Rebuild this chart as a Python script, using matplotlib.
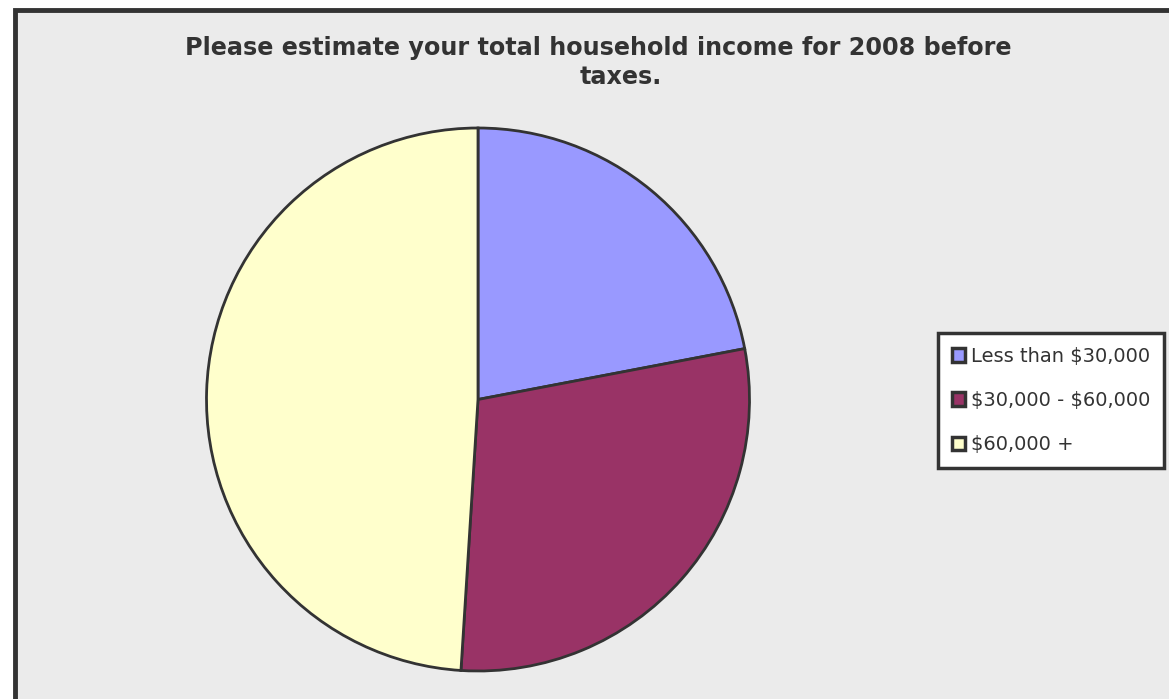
import matplotlib.pyplot as plt
from matplotlib.patches import Rectangle, Patch

# data
labels = [r'Less than \$30,000', r'\$30,000 - \$60,000', r'\$60,000 +']
values = [22, 29, 49]
colors = ['#9999FF', '#993366', '#FFFFCC']

W, H = 1169, 699
fig = plt.figure(figsize=(W / 100, H / 100), dpi=100)
fig.patch.set_facecolor('white')

# grey chart area with dark frame (only top and left visible)
bg = Rectangle((15 / W, -0.05), 1.1, 1 - 10 / H + 0.05,
               transform=fig.transFigure, facecolor='#EBEBEB',
               edgecolor='#333333', linewidth=3.5, zorder=-5)
fig.patches.append(bg)

# title, two lines
fig.text(598 / W, 1 - 48 / H, 'Please estimate your total household income for 2008 before',
         ha='center', va='center', fontsize=17.2, fontweight='bold', color='#333333')
fig.text(621 / W, 1 - 77 / H, 'taxes.',
         ha='center', va='center', fontsize=17.2, fontweight='bold', color='#333333')

# pie
cx, cy, r = 478, 399.5, 271.5
ax = fig.add_axes([(cx - r) / W, (H - cy - r) / H, 2 * r / W, 2 * r / H])
ax.set_zorder(2)
wedges, _ = ax.pie(values, colors=colors, startangle=90, counterclock=False,
                   wedgeprops=dict(edgecolor='#333333', linewidth=2))
ax.set_xlim(-1, 1)
ax.set_ylim(-1, 1)
ax.axis('off')

# legend
handles = [Patch(facecolor=c, edgecolor='#333333', linewidth=2.5) for c in colors]
leg = fig.legend(handles, labels, loc='upper left',
                 bbox_to_anchor=(938 / W, 1 - 333 / H),
                 frameon=True, fancybox=False, fontsize=14,
                 handlelength=0.7, handleheight=0.7, handletextpad=0.3,
                 labelspacing=1.3, borderpad=0.7, borderaxespad=0,
                 framealpha=1)
leg.set_zorder(3)
leg.get_frame().set_edgecolor('#333333')
leg.get_frame().set_linewidth(2.5)
leg.get_frame().set_facecolor('white')
for t in leg.get_texts():
    t.set_color('#333333')

plt.savefig('out.png', dpi=100)
